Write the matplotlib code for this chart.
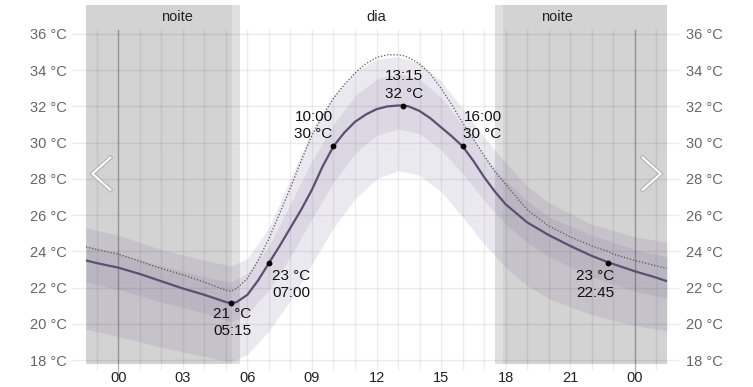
import matplotlib.pyplot as plt
import matplotlib.lines as mlines

# mean temperature (solid line)
hours = [-1.5, -1, 0, 1, 2, 3, 4, 5, 5.25, 5.5, 6, 6.5, 7, 7.5, 8, 8.5, 9, 9.5, 10, 10.5,
         11, 11.5, 12, 12.5, 13, 13.25, 13.5, 14, 14.5, 15, 15.5, 16, 16.5, 17, 17.5, 18,
         18.5, 19, 20, 21, 22, 22.75, 23, 24, 25, 25.5]
temp_mean = [23.5, 23.35, 23.1, 22.75, 22.35, 21.95, 21.6, 21.2, 21.14, 21.2, 21.6, 22.4,
             23.35, 24.3, 25.3, 26.3, 27.4, 28.7, 29.8, 30.55, 31.15, 31.55, 31.85, 32.0, 32.05,
             32.05, 32.0, 31.75, 31.35, 30.85, 30.35, 29.8, 29.0, 28.1, 27.3, 26.6, 26.1, 25.6,
             24.9, 24.3, 23.75, 23.4, 23.3, 22.9, 22.55, 22.35]
# dotted line
temp_dotted = [24.25, 24.1, 23.85, 23.45, 23.05, 22.7, 22.3, 21.85, 21.8, 21.95, 22.5, 23.5,
               24.7, 26.1, 27.5, 29.0, 30.4, 31.5, 32.45, 33.2, 33.85, 34.35, 34.7, 34.85,
               34.85, 34.8, 34.7, 34.35, 33.8, 33.0, 32.1, 31.1, 30.2, 29.3, 28.4, 27.7,
               27.0, 26.3, 25.4, 24.8, 24.3, 24.0, 23.85, 23.5, 23.2, 23.05]

# ranges
band_hours = [-1.5, 0, 2, 4, 5.25, 6, 7, 8, 9, 10, 11, 12, 13, 14, 15, 16, 17, 18, 19, 20, 22, 24, 25.5]
outer_hi = [25.3, 24.9, 24.1, 23.5, 23.2, 23.6, 25.3, 28.0, 30.7, 32.6, 33.9, 34.6, 34.75,
            34.4, 33.4, 31.9, 30.3, 28.9, 27.6, 26.7, 25.5, 24.8, 24.5]
inner_hi = [24.3, 23.9, 23.2, 22.6, 22.3, 22.8, 24.3, 26.6, 29.0, 31.0, 32.6, 33.5, 33.85,
            33.5, 32.5, 31.0, 29.3, 27.9, 26.8, 25.9, 24.9, 24.1, 23.7]
inner_lo = [22.3, 21.9, 21.2, 20.6, 20.1, 20.5, 21.9, 23.7, 25.8, 27.8, 29.4, 30.4, 30.75,
            30.5, 29.6, 28.3, 26.8, 25.5, 24.5, 23.7, 22.6, 21.8, 21.4]
outer_lo = [19.7, 19.3, 18.7, 18.2, 17.9, 18.3, 19.6, 21.3, 23.3, 25.3, 26.9, 28.0, 28.45,
            28.2, 27.3, 25.9, 24.4, 23.1, 22.1, 21.4, 20.5, 19.9, 19.6]

# labelled points
pt_hours = [5.25, 7, 10, 13.25, 16, 22.75]
pt_temps = [21.14, 23.35, 29.8, 32.05, 29.8, 23.35]
pt_labels = ['21 °C\n05:15', '23 °C\n07:00', '10:00\n30 °C', '13:15\n32 °C', '16:00\n30 °C', '23 °C\n22:45']
pt_offsets = [(1, -4), (3, -6), (-20, 5), (1, 5), (20, 5), (-13, -6)]
pt_ha = ['center', 'left', 'center', 'center', 'center', 'center']
pt_va = ['top', 'top', 'bottom', 'bottom', 'bottom', 'top']

xticks = [0, 3, 6, 9, 12, 15, 18, 21, 24]
xticklabels = ['00', '03', '06', '09', '12', '15', '18', '21', '00']
yticks = [18, 20, 22, 24, 26, 28, 30, 32, 34, 36]

plt.rcParams['font.family'] = ['Liberation Sans', 'DejaVu Sans']

fig = plt.figure(figsize=(7.53, 3.87), dpi=100)
ax = fig.add_axes([86 / 753, 23 / 387, 581 / 753, 359 / 387])
ax.set_xlim(-1.5, 25.5)
ax.set_ylim(17.78, 37.6)

# night shading
ax.axvspan(-1.5, 5.3, color='#d3d3d3', lw=0, zorder=0)
ax.axvspan(5.3, 5.67, color='#e0e0e0', lw=0, zorder=0)
ax.axvspan(17.49, 17.86, color='#e0e0e0', lw=0, zorder=0)
ax.axvspan(17.86, 25.5, color='#d3d3d3', lw=0, zorder=0)
ax.text(2.75, 36.95, 'noite', ha='center', va='center', fontsize=10.5, color='#222222')
ax.text(12.0, 36.95, 'dia', ha='center', va='center', fontsize=10.5, color='#222222')
ax.text(20.4, 36.95, 'noite', ha='center', va='center', fontsize=10.5, color='#222222')

# grid
for h in range(-1, 26):
    if h in (0, 24):
        ax.plot([h, h], [17.2, 36.22], color='#000000', alpha=0.3, lw=1, zorder=1, clip_on=False)
    else:
        ax.plot([h, h], [17.5, 36.22], color='#000000', alpha=0.07, lw=1, zorder=1, clip_on=False)
for t in yticks:
    ax.plot([-0.024, 1.019], [t, t], color='#000000', alpha=0.08, lw=1, zorder=1,
            transform=ax.get_yaxis_transform(), clip_on=False)

# bands
ax.fill_between(band_hours, outer_lo, outer_hi, color='#6a5a8c', alpha=0.13, lw=0, zorder=2)
ax.fill_between(band_hours, inner_lo, inner_hi, color='#6a5a8c', alpha=0.12, lw=0, zorder=2)

ax.plot(hours, temp_dotted, color='#555555', lw=0.9, ls=(0, (1, 1.5)), zorder=3)
ax.plot(hours, temp_mean, color='#5a5070', lw=1.6, zorder=4)

ax.scatter(pt_hours, pt_temps, s=10, color='black', zorder=5)
for h, t, lab, off, ha, va in zip(pt_hours, pt_temps, pt_labels, pt_offsets, pt_ha, pt_va):
    ax.annotate(lab, (h, t), xytext=off, textcoords='offset pixels', ha=ha, va=va,
                fontsize=11, color='#111111', linespacing=1.3, zorder=6)

# arrows
for xs in ([0.042, 0.011, 0.042], [0.958, 0.989, 0.958]):
    ax.add_line(mlines.Line2D(xs, [0.575, 0.53, 0.485], transform=ax.transAxes,
                              color='#b0b0b0', lw=3, solid_joinstyle='miter', zorder=7))
    ax.add_line(mlines.Line2D(xs, [0.575, 0.53, 0.485], transform=ax.transAxes,
                              color='#ffffff', lw=1.5, solid_joinstyle='miter', zorder=8))

ax.set_xticks(xticks)
ax.set_xticklabels(xticklabels)
ax.set_yticks(yticks)
ax.set_yticklabels([f'{t} °C' for t in yticks])
ax.tick_params(axis='x', length=0, pad=5, labelsize=10.5, labelcolor='#222222')
ax.tick_params(axis='y', length=0, pad=14, labelsize=10.5, labelcolor='#666666',
               left=True, right=True, labelleft=True, labelright=True)
for s in ax.spines.values():
    s.set_visible(False)

fig.savefig('out.png', dpi=100)
